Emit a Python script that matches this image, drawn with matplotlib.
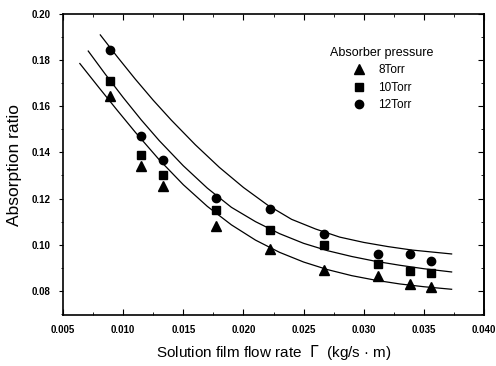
import matplotlib.pyplot as plt
import numpy as np
from matplotlib.ticker import MultipleLocator

# measured points (flow rate, absorption ratio)
flow = [0.0089, 0.0115, 0.0133, 0.0177, 0.0222, 0.0267, 0.0312, 0.0338, 0.0356]
torr8 = [0.1643, 0.1339, 0.1256, 0.1082, 0.0982, 0.0891, 0.0865, 0.0830, 0.0817]
torr10 = [0.1709, 0.1387, 0.1300, 0.1152, 0.1065, 0.0999, 0.0917, 0.0886, 0.0878]
torr12 = [0.1843, 0.1469, 0.1369, 0.1204, 0.1156, 0.1047, 0.0960, 0.0960, 0.0930]

# fitted curves
fit8_x = [0.0064, 0.0080, 0.0095, 0.0110, 0.0130, 0.0150, 0.0170, 0.0190, 0.0210, 0.0230, 0.0250, 0.0270, 0.0290, 0.0310, 0.0330, 0.0350, 0.0373]
fit8_y = [0.1785, 0.1680, 0.1583, 0.1488, 0.1368, 0.1260, 0.1166, 0.1086, 0.1020, 0.0967, 0.0925, 0.0892, 0.0866, 0.0846, 0.0830, 0.0818, 0.0807]
fit10_x = [0.0071, 0.0085, 0.0100, 0.0115, 0.0130, 0.0150, 0.0170, 0.0190, 0.0210, 0.0230, 0.0250, 0.0270, 0.0290, 0.0310, 0.0330, 0.0350, 0.0373]
fit10_y = [0.1839, 0.1740, 0.1638, 0.1541, 0.1451, 0.1342, 0.1245, 0.1162, 0.1100, 0.1048, 0.1006, 0.0974, 0.0949, 0.0928, 0.0911, 0.0896, 0.0882]
fit12_x = [0.0081, 0.0095, 0.0110, 0.0125, 0.0140, 0.0160, 0.0180, 0.0200, 0.0220, 0.0240, 0.0260, 0.0280, 0.0300, 0.0320, 0.0340, 0.0373]
fit12_y = [0.1909, 0.1815, 0.1718, 0.1626, 0.1540, 0.1433, 0.1335, 0.1248, 0.1172, 0.1110, 0.1068, 0.1033, 0.1010, 0.0992, 0.0977, 0.0960]

x_ticks = [0.005, 0.010, 0.015, 0.020, 0.025, 0.030, 0.035, 0.040]
y_ticks = [0.08, 0.10, 0.12, 0.14, 0.16, 0.18, 0.20]

plt.rcParams['font.family'] = ['Liberation Sans', 'DejaVu Sans']

fig = plt.figure(figsize=(4.96, 3.66), dpi=100)
ax = fig.add_axes([0.127, 0.139, 0.849, 0.823])

ax.plot(fit8_x, fit8_y, color='black', lw=0.9)
ax.plot(fit10_x, fit10_y, color='black', lw=0.9)
ax.plot(fit12_x, fit12_y, color='black', lw=0.9)

ax.plot(flow, torr8, '^', color='black', ms=7, label='8Torr')
ax.plot(flow, torr10, 's', color='black', ms=5.3, label='10Torr')
ax.plot(flow, torr12, 'o', color='black', ms=6, label='12Torr')

ax.set_xlim(0.005, 0.040)
ax.set_ylim(0.0695, 0.20)
ax.set_xticks(x_ticks)
ax.set_xticklabels([f"{t:.3f}" for t in x_ticks])
ax.set_yticks(y_ticks)
ax.set_yticklabels([f"{t:.2f}" for t in y_ticks])
ax.xaxis.set_minor_locator(MultipleLocator(0.0025))
ax.yaxis.set_minor_locator(MultipleLocator(0.01))

ax.tick_params(axis='x', which='both', direction='in', top=True, labelsize=7, pad=7)
ax.tick_params(axis='x', which='major', length=4, width=0.8)
ax.tick_params(axis='x', which='minor', length=2, width=0.6)
ax.tick_params(axis='y', which='both', direction='out', labelsize=7, pad=6)
ax.tick_params(axis='y', which='major', length=3, width=0.8)
ax.tick_params(axis='y', which='minor', length=1.5, width=0.6)
for lab in ax.get_xticklabels() + ax.get_yticklabels():
	lab.set_fontweight('bold')

# right side ticks point inward
ax2 = ax.secondary_yaxis('right')
ax2.set_yticks(y_ticks)
ax2.yaxis.set_minor_locator(MultipleLocator(0.01))
ax2.tick_params(which='both', direction='in', labelright=False)
ax2.tick_params(which='major', length=4, width=0.8)
ax2.tick_params(which='minor', length=2, width=0.6)

for s in ax.spines.values():
	s.set_linewidth(1.2)
ax2.spines['right'].set_linewidth(1.2)

ax.set_ylabel("Absorption ratio", fontsize=12.5, labelpad=7)
ax.set_xlabel("Solution film flow rate  $\\mathit{\\Gamma}$  (kg/s \u00b7 m)", fontsize=11, labelpad=6)

leg = ax.legend(title="Absorber pressure", loc='upper left', bbox_to_anchor=(0.635, 0.89),
	frameon=False, fontsize=8.5, title_fontsize=9, handlelength=1.2,
	handletextpad=1.0, labelspacing=0.45, borderaxespad=0, borderpad=0)

plt.savefig("out.png", dpi=100)
